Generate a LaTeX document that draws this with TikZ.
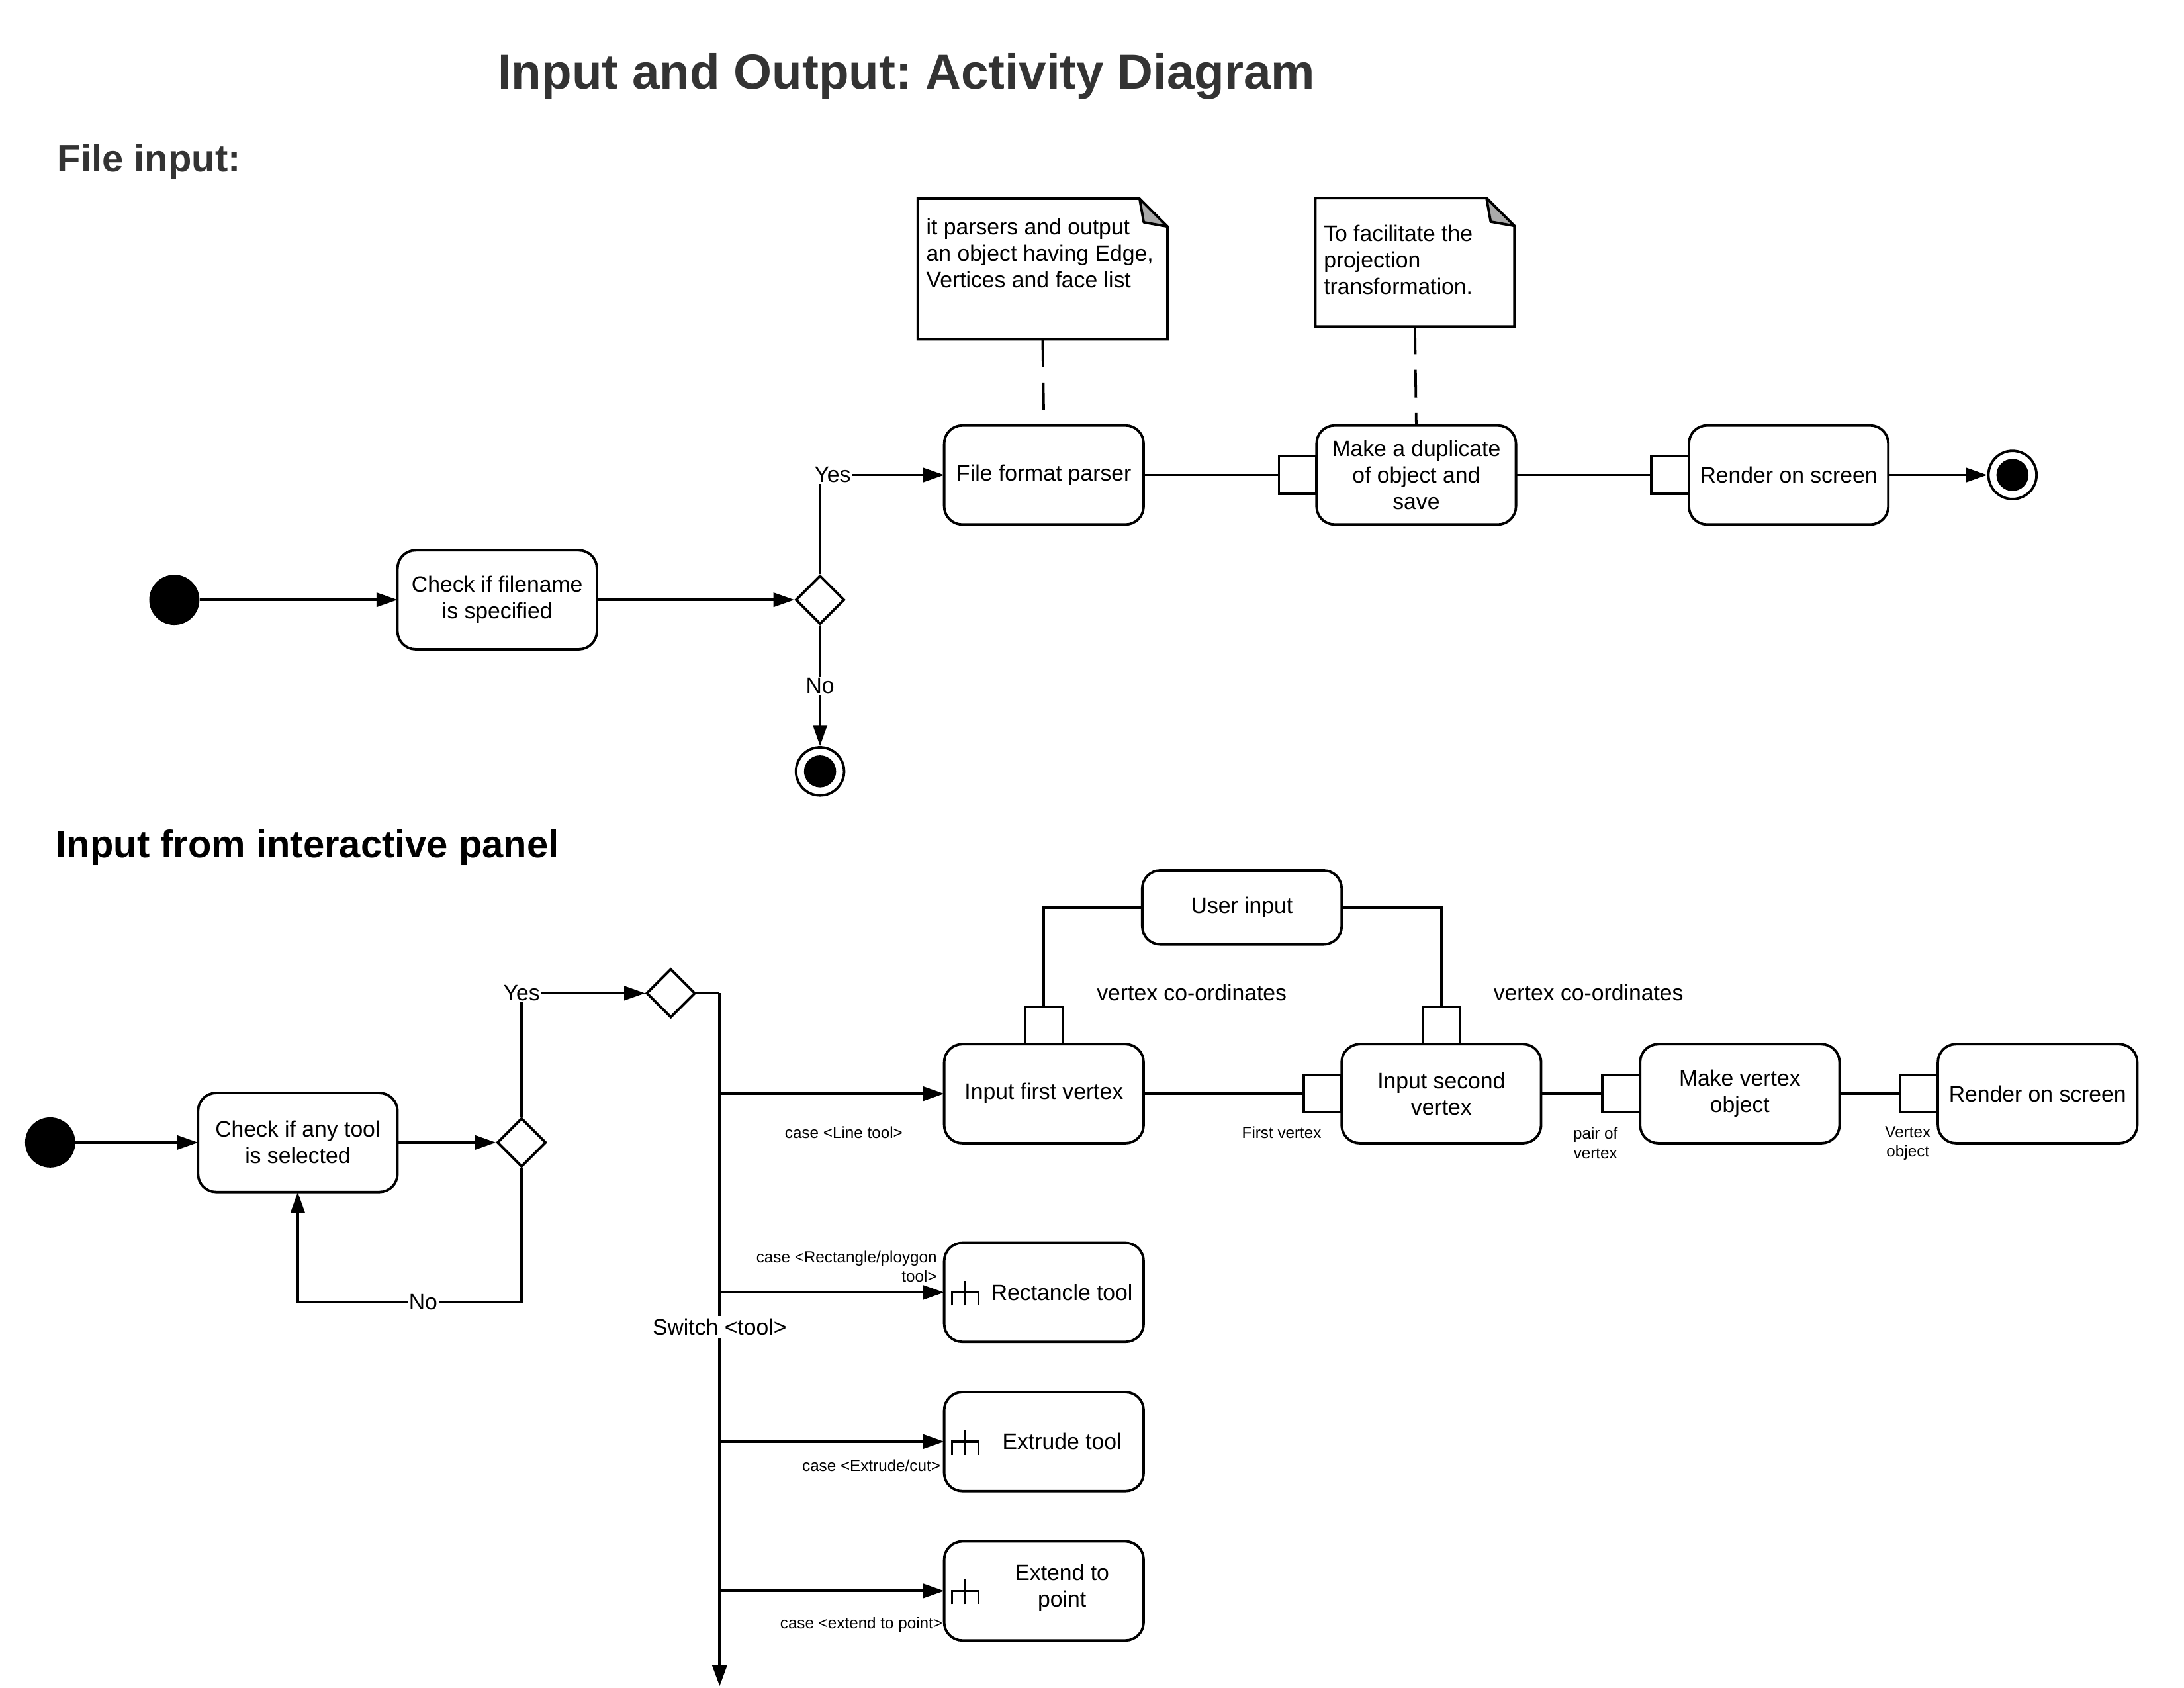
\documentclass[tikz,border=0pt]{standalone}
\usepackage{fontspec}
\setmainfont{Liberation Sans}
\usetikzlibrary{arrows.meta,shapes.geometric,calc}
\frenchspacing
\definecolor{titlegray}{HTML}{333333}
\definecolor{foldgray}{HTML}{AAAAAA}
\newcommand\noteoutline[1]{%
  \draw[line width=1.8pt, line join=miter] (#1.south west) -- (#1.north west) -- ([xshift=-20pt]#1.north east) -- ([yshift=-20pt]#1.north east) -- (#1.south east) -- cycle;
  \filldraw[fill=foldgray, line width=1.8pt, line join=round] ([xshift=-20pt]#1.north east) -- ([xshift=-17pt,yshift=-17pt]#1.north east) -- ([yshift=-20pt]#1.north east) -- cycle;}
\newcommand\rakeicon[1]{%
  \draw[line width=1.6pt] ([xshift=5.5pt]#1.west) ++(0,9.5) -- ++(0,-9.5) -- ++(19.2,0) -- ++(0,9.5) ++(-9.6,0) -- ++(0,-18);}
\begin{document}
\begin{tikzpicture}[x=1pt,y=-1pt,
  every node/.style={font=\fontsize{16}{19}\selectfont},
  act/.style={draw, line width=1.8pt, rounded corners=13pt, minimum width=143pt, minimum height=71pt, align=center, inner sep=0pt, outer sep=0pt},
  pinbox/.style={draw, line width=1.8pt, fill=white, minimum size=27pt, inner sep=0pt, outer sep=0pt},
  startdot/.style={circle, fill=black, minimum size=36pt, inner sep=0pt},
  enddot/.style={circle, draw, line width=1.8pt, minimum size=34.5pt, inner sep=0pt, path picture={\fill[black] (path picture bounding box.center) circle (11.5pt);}},
  decision/.style={diamond, draw, line width=1.8pt, minimum width=35pt, minimum height=35pt, inner sep=0pt},
  conn/.style={line width=1.8pt},
  arr/.style={conn, -{Triangle[length=15pt,width=10pt]}},
  lbl/.style={fill=white, inner sep=1pt},
  smalllbl/.style={font=\fontsize{11.5}{14}\selectfont, align=center, inner sep=0pt},
  notebox/.style={inner sep=0pt},
  dashedconn/.style={line width=1.8pt, dash pattern=on 20pt off 11pt},
  heading/.style={inner sep=0pt, anchor=base west, font=\bfseries\fontsize{27.5}{33}\selectfont}
]
\fill[white] (0,0) rectangle (1566,1210);
\useasboundingbox (0,0) rectangle (1566,1210);

% headings
\node[anchor=base, inner sep=0pt, font=\bfseries\fontsize{35.4}{42}\selectfont, text=titlegray] (title) at (650,64) {Input and Output: Activity Diagram};
\node[heading, text=titlegray] (fi) at (41,123) {File input:};
\node[heading] (ip) at (40,615) {Input from interactive panel};

% ---------- File input ----------
\node[startdot] (s1) at (125,430) {};
\node[act] (chk1) at (356.5,430) {Check if filename\\is specified};
\node[decision] (d1) at (588,430) {};
\node[enddot] (e1) at (588,553) {};
\node[act] (ffp) at (748.5,340.5) {File format parser};
\node[act] (dup) at (1015.5,340.5) {Make a duplicate\\of object and\\save};
\node[act] (ren1) at (1282.5,340.5) {Render on screen};
\node[enddot] (e2) at (1443,340.5) {};
\node[pinbox, anchor=east] (p1) at (dup.west) {};
\node[pinbox, anchor=east] (p2) at (ren1.west) {};

% notes
\node[notebox, minimum width=178.6pt, minimum height=100.4pt] (n1) at (747.6,192.8) {};
\node[notebox, minimum width=142.3pt, minimum height=91.7pt] (n2) at (1014.5,188) {};
\noteoutline{n1}
\noteoutline{n2}
\node[anchor=north west, align=left, inner sep=0pt] (n1t) at (664,156.5) {it parsers and output\\an object having Edge,\\Vertices and face list};
\node[anchor=north west, align=left, inner sep=0pt] (n2t) at (949,161) {To facilitate the\\projection\\transformation.};
\draw[dashedconn] (n1.south) -- (ffp.north);
\draw[dashedconn] (n2.south) -- (dup.north);

\draw[arr] (s1) -- (chk1);
\draw[arr] (chk1) -- (d1);
\draw[arr] (d1.north) |- (ffp.west) node[lbl, pos=0.5, xshift=9pt] {Yes};
\draw[arr] (d1.south) -- (e1) node[lbl, midway] {No};
\draw[conn] (ffp) -- (p1);
\draw[conn] (dup) -- (p2);
\draw[arr] (ren1) -- (e2);

% ---------- Interactive panel ----------
\node[startdot] (s2) at (36,819) {};
\node[act] (chk2) at (213.5,819) {Check if any tool\\is selected};
\node[decision] (d2) at (374,819) {};
\node[decision] (d3) at (481,712) {};
\coordinate (swtop) at (516,712);
\coordinate (swbot) at (516,1209);
\node[act] (ifv) at (748.5,784) {Input first vertex};
\node[act, minimum height=53pt] (ui) at (890.5,650.5) {User input};
\node[act] (isv) at (1033.5,784) {Input second\\vertex};
\node[act] (mvo) at (1247.5,784) {Make vertex\\object};
\node[act] (ren2) at (1461,784) {Render on screen};
\node[pinbox, anchor=south] (pA) at (ifv.north) {};
\node[pinbox, anchor=south] (pB) at (isv.north) {};
\node[pinbox, anchor=east] (pC) at (isv.west) {};
\node[pinbox, anchor=east] (pD) at (mvo.west) {};
\node[pinbox, anchor=east] (pE) at (ren2.west) {};

\node[act] (rt) at (748.5,926.5) {};
\node (rtt) at (761.5,926.5) {Rectancle tool};
\node[act] (et) at (748.5,1033.5) {};
\node (ett) at (761.5,1033.5) {Extrude tool};
\node[act] (ep) at (748.5,1140.5) {};
\node[align=center] (ept) at (761.5,1138.5) {Extend to\\point};
\rakeicon{rt}
\rakeicon{et}
\rakeicon{ep}

\draw[arr] (s2) -- (chk2);
\draw[arr] (chk2) -- (d2);
\draw[arr] (d2.north) |- (d3.west) node[lbl, pos=0.5] {Yes};
\draw[arr] (d2.south) -- ++(0,96) -| (chk2.south) node[lbl, pos=0.22] {No};
\draw[conn] (d3.east) -- (swtop);
\draw[line width=2.6pt, -{Triangle[length=15pt,width=10pt]}] (swtop) -- (swbot) node[lbl, pos=0.481, inner sep=2pt] {Switch <tool>};
\draw[arr] (swtop |- ifv.west) -- (ifv.west);
\draw[arr] (swtop |- rt.west) -- (rt.west);
\draw[arr] (swtop |- et.west) -- (et.west);
\draw[arr] (swtop |- ep.west) -- (ep.west);

\draw[conn] (ui.west) -| (pA.north);
\draw[conn] (ui.east) -| (pB.north);
\draw[conn] (ifv.east) -- (pC.west);
\draw[conn] (isv.east) -- (pD.west);
\draw[conn] (mvo.east) -- (pE.west);

\node (vc1) at (854.5,711.5) {vertex co-ordinates};
\node (vc2) at (1139,711.5) {vertex co-ordinates};
\node[smalllbl] (l1) at (605,812) {case <Line tool>};
\node[smalllbl, align=right, anchor=east] (l2) at (672,908) {case <Rectangle/ploygon\\tool>};
\node[smalllbl, anchor=east] (l3) at (674.5,1050.5) {case <Extrude/cut>};
\node[smalllbl, anchor=east] (l4) at (676,1164.5) {case <extend to point>};
\node[smalllbl] (l5) at (919,812) {First vertex};
\node[smalllbl] (l6) at (1144,819.5) {pair of\\vertex};
\node[smalllbl] (l7) at (1368,819.5) {Vertex\\object};
\end{tikzpicture}
\end{document}
